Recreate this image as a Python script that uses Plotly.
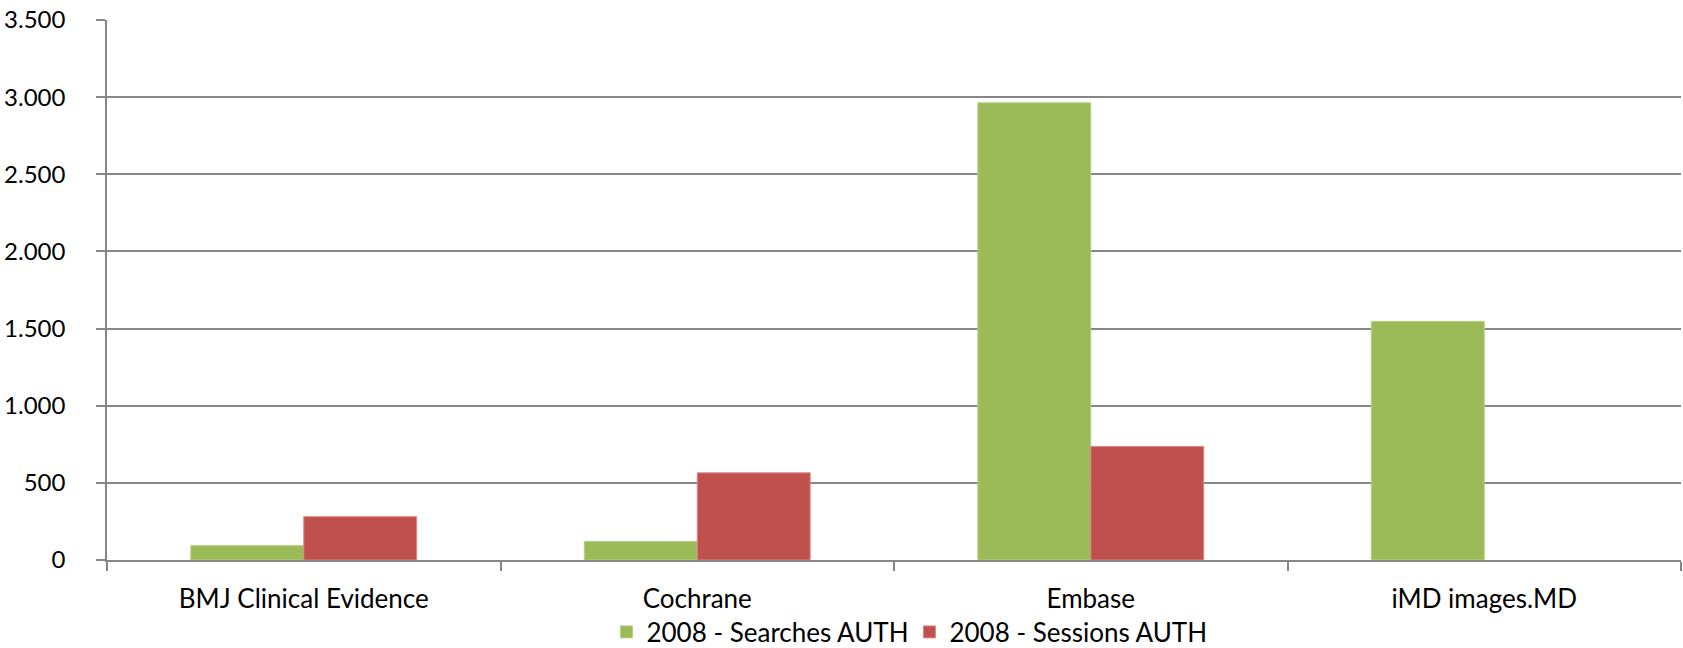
import plotly.graph_objects as go

categories = ["BMJ Clinical Evidence", "Cochrane", "Embase", "iMD images.MD"]
searches = [93, 120, 2963, 1546]
sessions = [281, 565, 736, None]
series_names = ["2008 - Searches AUTH", "2008 - Sessions AUTH"]
y_ticks = [0, 500, 1000, 1500, 2000, 2500, 3000, 3500]

FONT = "Lato"
GRID = "#868686"

fig = go.Figure()
fig.add_trace(go.Bar(x=categories, y=searches, name=series_names[0],
                     marker=dict(color="#9BBB59", line=dict(color="#B5D07F", width=1))))
fig.add_trace(go.Bar(x=categories, y=sessions, name=series_names[1],
                     marker=dict(color="#C0504D", line=dict(color="#D98A88", width=1))))

fig.update_layout(
    width=1683, height=648,
    margin=dict(l=107, r=2, t=20, b=88, autoexpand=False),
    paper_bgcolor="white", plot_bgcolor="white",
    barmode="group", bargap=0.426, bargroupgap=0,
    separators=",.",
    font=dict(family=FONT, size=26, color="black"),
    showlegend=True,
    legend=dict(orientation="h", x=0.5098, xanchor="center",
                yref="container", y=(648 - 632) / 648, yanchor="middle",
                entrywidth=258, entrywidthmode="pixels",
                font=dict(family=FONT, size=26, color="black"),
                tracegroupgap=0, bgcolor="rgba(0,0,0,0)"),
)
fig.update_yaxes(range=[0, 3500], tickvals=y_ticks, tickformat=",d",
                 showgrid=True, gridcolor=GRID, gridwidth=1.5,
                 showline=True, linecolor=GRID, linewidth=1.5,
                 ticks="outside", ticklen=9, tickcolor=GRID, tickwidth=1.5,
                 ticklabelstandoff=26, zeroline=False,
                 tickfont=dict(family=FONT, size=24, color="black"))
fig.update_xaxes(showline=True, linecolor=GRID, linewidth=1.5,
                 ticks="outside", tickson="boundaries", ticklen=9, tickcolor=GRID, tickwidth=1.5,
                 showgrid=False, ticklabelstandoff=15,
                 tickfont=dict(family=FONT, size=26, color="black"))

fig.write_html("out.html", config={"displayModeBar": False},
               post_script="document.body.style.margin='0';document.body.style.overflow='hidden';")
